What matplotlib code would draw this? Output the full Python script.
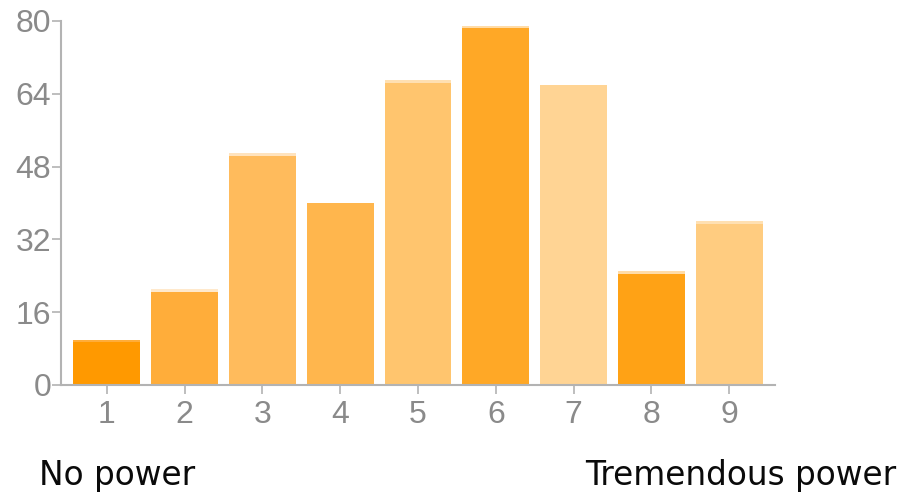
import matplotlib.pyplot as plt
import numpy as np

categories = ["1", "2", "3", "4", "5", "6", "7", "8", "9"]
values = [10, 21, 51, 40, 67, 79, 66, 25, 36]
colors = ["#FF9900", "#FFAD3A", "#FFBB5C", "#FFB64D", "#FFC56E",
          "#FFA826", "#FFD494", "#FFA215", "#FFCC80"]
cap_colors = ["#FFAD3A", "#FFE9CC", "#FFE3BE", "#FFB64D", "#FFE0B2",
              "#FFDCA8", "#FFD494", "#FFDCA8", "#FFE0B2"]
left_label = "No power"
right_label = "Tremendous power"

fig = plt.figure(figsize=(8.98, 4.92), dpi=100)
ax = fig.add_axes([61 / 898, 107 / 492, 714 / 898, 364 / 492])

x = np.arange(1, len(values) + 1)
ax.bar(x, values, width=0.86, color=colors, linewidth=0)
# thin lighter cap on top of each bar
cap = 0.6
ax.bar(x, [cap] * len(values), bottom=np.array(values) - cap, width=0.86,
       color=cap_colors, linewidth=0)

ax.set_xlim(0.41, 9.59)
ax.set_ylim(0, 80)
ax.set_yticks([0, 16, 32, 48, 64, 80])
ax.set_xticks(x)
ax.set_xticklabels(categories)

for s in ["top", "right"]:
    ax.spines[s].set_visible(False)
for s in ["left", "bottom"]:
    ax.spines[s].set_color("#B3B3B3")
    ax.spines[s].set_linewidth(1.5)

ax.tick_params(axis="both", colors="#B3B3B3", length=6.5, width=1.2,
               labelcolor="#8A8A8A", labelsize=23)
ax.tick_params(axis="y", pad=0.5)
ax.tick_params(axis="x", pad=4)
for lab in ax.get_xticklabels() + ax.get_yticklabels():
    lab.set_fontfamily("Liberation Sans")

fig.text(39 / 898, 7 / 492, left_label, fontsize=23.6, color="#0A0A0A",
         family="DejaVu Sans", ha="left", va="baseline")
fig.text(896 / 898, 7 / 492, right_label, fontsize=23.6, color="#0A0A0A",
         family="DejaVu Sans", ha="right", va="baseline")

fig.savefig("out.png", dpi=100)
